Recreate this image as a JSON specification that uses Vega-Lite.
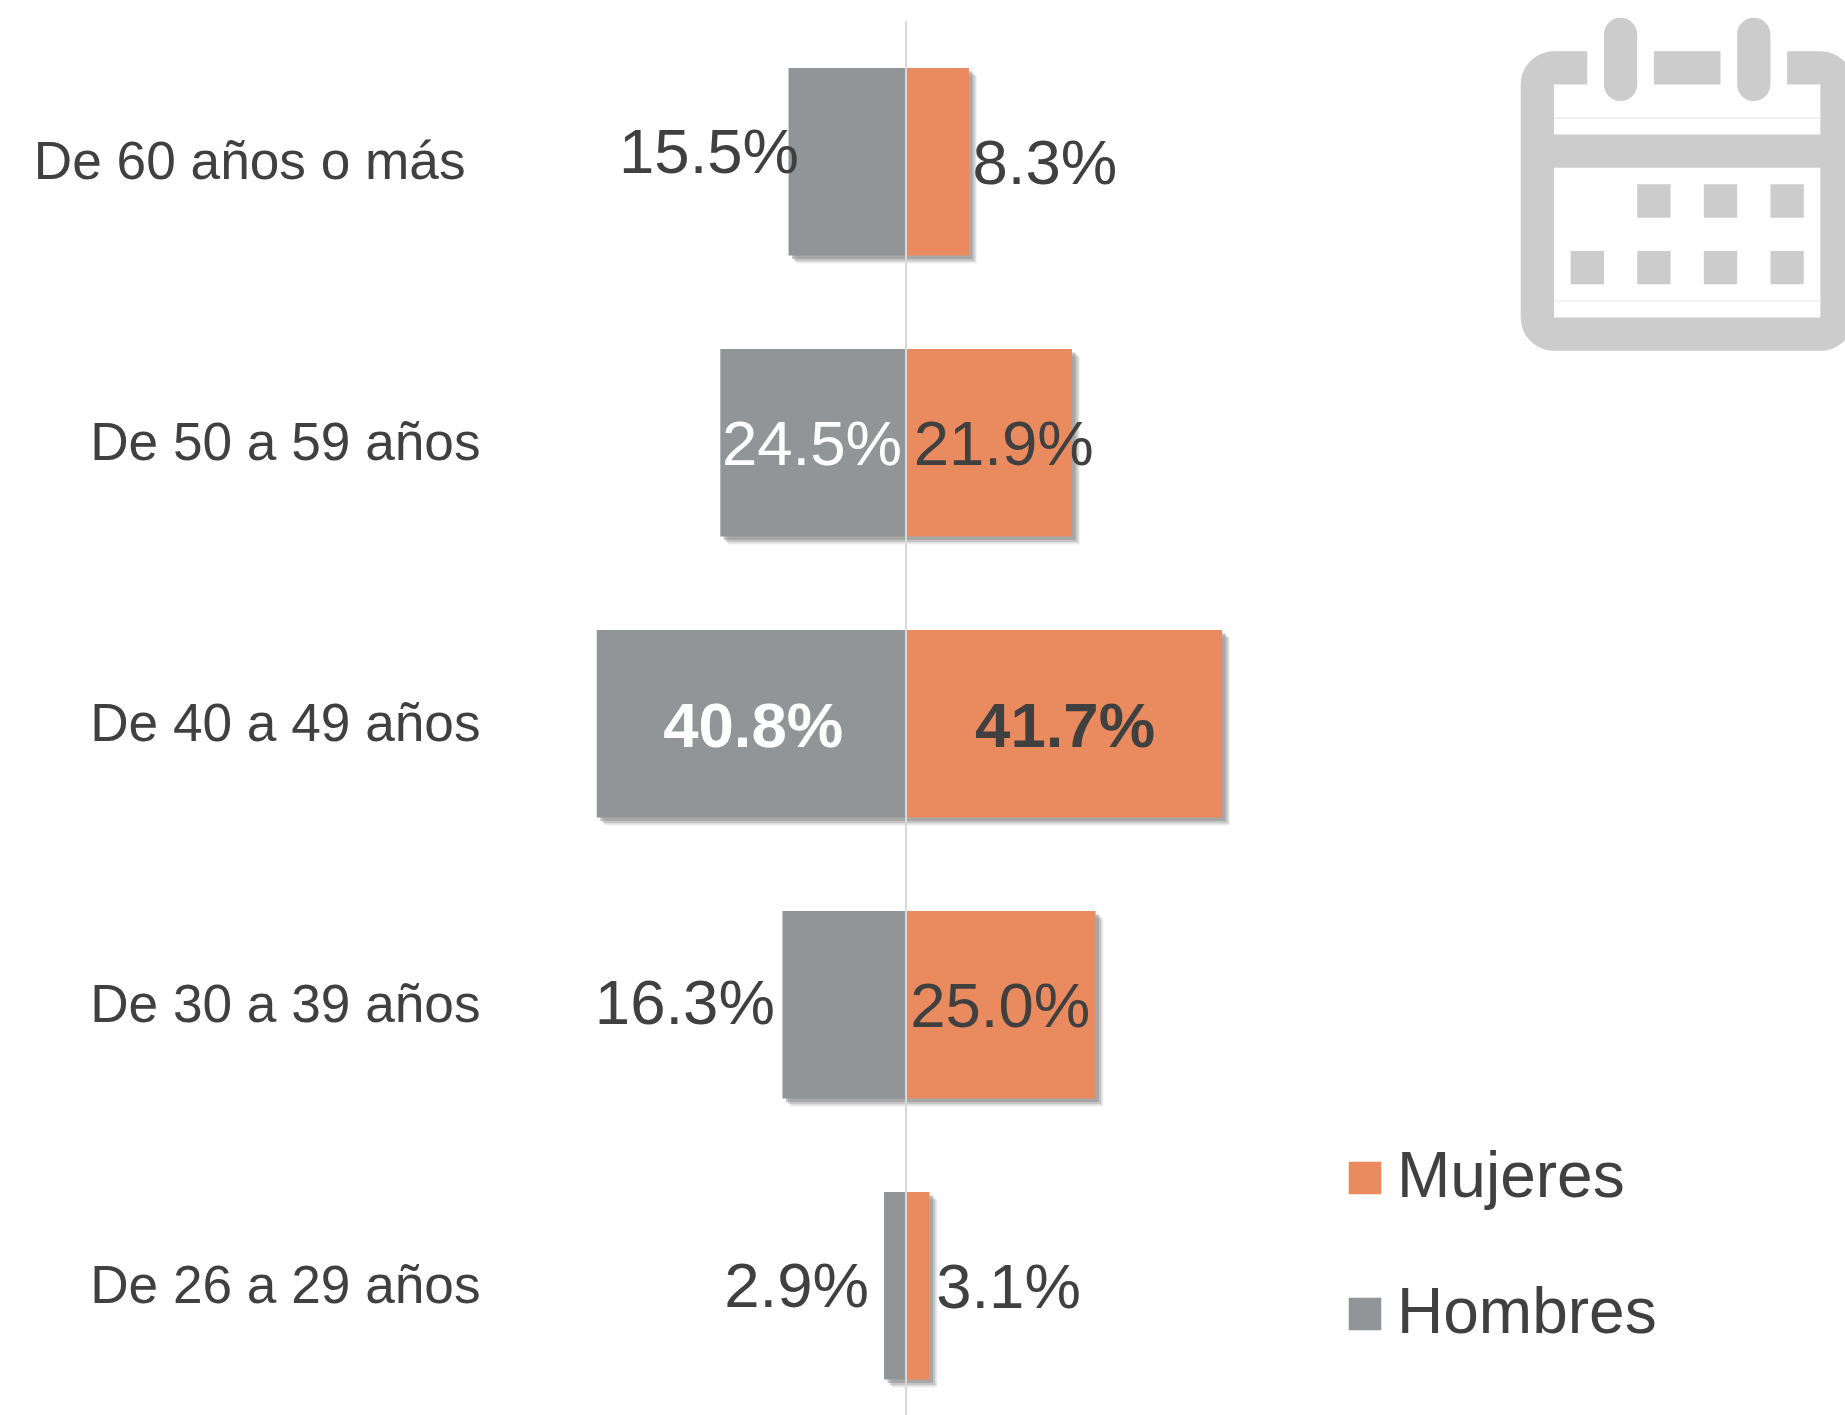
{
"$schema":"https://vega.github.io/schema/vega-lite/v6.json",
"width":1845,"height":1394,
"autosize":{"type":"none"},
"padding":{"left":0,"top":21,"right":0,"bottom":0},
"background":"white",
"config":{"view":{"stroke":null},"font":"Liberation Sans"},
"data":{"values":[
{"grupo":"De 60 años o más","sexo":"Hombres","valor":-15.5,"etiqueta":"15.5%"},
{"grupo":"De 60 años o más","sexo":"Mujeres","valor":8.3,"etiqueta":"8.3%"},
{"grupo":"De 50 a 59 años","sexo":"Hombres","valor":-24.5,"etiqueta":"24.5%"},
{"grupo":"De 50 a 59 años","sexo":"Mujeres","valor":21.9,"etiqueta":"21.9%"},
{"grupo":"De 40 a 49 años","sexo":"Hombres","valor":-40.8,"etiqueta":"40.8%"},
{"grupo":"De 40 a 49 años","sexo":"Mujeres","valor":41.7,"etiqueta":"41.7%"},
{"grupo":"De 30 a 39 años","sexo":"Hombres","valor":-16.3,"etiqueta":"16.3%"},
{"grupo":"De 30 a 39 años","sexo":"Mujeres","valor":25.0,"etiqueta":"25.0%"},
{"grupo":"De 26 a 29 años","sexo":"Hombres","valor":-2.9,"etiqueta":"2.9%"},
{"grupo":"De 26 a 29 años","sexo":"Mujeres","valor":3.1,"etiqueta":"3.1%"}
]},
"encoding":{
"x":{"field":"valor","type":"quantitative","scale":{"domain":[-119.53,123.88],"nice":false,"zero":false},"axis":null},
"y":{"field":"grupo","type":"nominal","title":null,
"scale":{"type":"band","domain":["De 60 años o más","De 50 a 59 años","De 40 a 49 años","De 30 a 39 años","De 26 a 29 años"],"paddingInner":0.3327,"paddingOuter":0.147,"align":0.57},
"axis":{"orient":"left","offset":-480,"domain":false,"ticks":false,"grid":false,"labelFont":"Liberation Sans","labelFontSize":53.2,"labelColor":"#404040","labelLimit":600,"labelAlign":"right","labelOffset":1,"labelPadding":{"condition":{"test":"datum.value=='De 60 años o más'","value":15},"value":0},"labelBaseline":"middle"}}
},
"layer":[
{"mark":{"type":"bar","color":"#8a8a8a","opacity":0.1,"xOffset":8,"x2Offset":8,"yOffset":8,"y2Offset":8}},
{"mark":{"type":"bar","color":"#8a8a8a","opacity":0.2,"xOffset":7,"x2Offset":7,"yOffset":7,"y2Offset":7}},
{"mark":{"type":"bar","color":"#8a8a8a","opacity":0.3,"xOffset":5.5,"x2Offset":5.5,"yOffset":5.5,"y2Offset":5.5}},
{"mark":{"type":"bar","color":"#8a8a8a","opacity":0.5,"xOffset":3.5,"x2Offset":3.5,"yOffset":3.5,"y2Offset":3.5}},
{"mark":{"type":"bar"},
"encoding":{"color":{"field":"sexo","type":"nominal","scale":{"domain":["Mujeres","Hombres"],"range":["#EA8B5F","#919598"]},
"legend":{"title":null,"orient":"none","legendX":1333,"legendY":1125,"labelFont":"Liberation Sans","labelFontSize":64,"labelColor":"#404040","labelLimit":600,"symbolType":"square","symbolSize":1056,"symbolStrokeWidth":0,"labelOffset":0,"rowPadding":72,"columns":1}}}},
{"mark":{"type":"rule","color":"#D9D9D9","strokeWidth":1.5},"encoding":{"x":{"datum":0},"y":null}},
{"mark":{"type":"text","font":"Liberation Sans","fontSize":63.5,"align":"center","baseline":"middle",
"fontWeight":{"expr":"abs(datum.valor)>40?'bold':'normal'"},
"dx":{"expr":"{'15.5%':-79.5,'24.5%':91.6,'40.8%':156.4,'16.3%':-97.6,'2.9%':-87.4,'8.3%':76,'21.9%':-68.3,'41.7%':-157,'25.0%':-95.3,'3.1%':79}[datum.etiqueta]"},
"dy":{"expr":"{'15.5%':-8,'24.5%':3,'40.8%':4,'16.3%':0,'2.9%':2,'8.3%':3,'21.9%':3,'41.7%':4,'25.0%':3,'3.1%':3}[datum.etiqueta]"}},
"encoding":{"text":{"field":"etiqueta","type":"nominal"},
"color":{"condition":{"test":"datum.valor==-24.5||datum.valor==-40.8","value":"#FFFFFF"},"value":"#404040"}}},
{"data":{"values":[{"grupo":"De 60 años o más","valor":103.06}]},
"mark":{"type":"point","filled":true,"fill":"#CCCCCC","opacity":1,"strokeWidth":0,"yOffset":22.5,"size":110889,
"shape":"M-.6 -.8 L-.8 -.8 C-.91 -.8 -1 -.71 -1 -.6 L-1 .8 C-1 .91 -.91 1 -.8 1 L.8 1 C.91 1 1 .91 1 .8 L1 -.6 C1 -.71 .91 -.8 .8 -.8 L.6 -.8 L.6 -.6 L.8 -.6 L.8 -.3 L-.8 -.3 L-.8 -.6 L-.6 -.6 Z M-.8 -.1 L.8 -.1 L.8 .8 L-.8 .8 Z M-.1 .0 L-.3 .0 L-.3 .2 L-.1 .2 Z M.3 .0 L.1 .0 L.1 .2 L.3 .2 Z M.7 .0 L.5 .0 L.5 .2 L.7 .2 Z M-.5 .4 L-.7 .4 L-.7 .6 L-.5 .6 Z M-.1 .4 L-.3 .4 L-.3 .6 L-.1 .6 Z M.3 .4 L.1 .4 L.1 .6 L.3 .6 Z M.7 .4 L.5 .4 L.5 .6 L.7 .6 Z M-.2 -.8 L.2 -.8 L.2 -.6 L-.2 -.6 Z M-.5 -.9 C-.5 -.955 -.455 -1 -.4 -1 C-.345 -1 -.3 -.955 -.3 -.9 L-.3 -.6 C-.3 -.545 -.345 -.5 -.4 -.5 C-.455 -.5 -.5 -.545 -.5 -.6 Z M.3 -.9 C.3 -.955 .345 -1 .4 -1 C.455 -1 .5 -.955 .5 -.9 L.5 -.6 C.5 -.545 .455 -.5 .4 -.5 C.345 -.5 .3 -.545 .3 -.6 Z"}},
{"data":{"values":[{"grupo":"De 60 años o más","valor":103.06}]},
"mark":{"type":"point","filled":true,"fill":"#E4E4E4","opacity":1,"strokeWidth":0,"yOffset":22.5,"size":110889,
"shape":"M-.8 -.402 L.8 -.402 L.8 -.396 L-.8 -.396 Z M-.8 .698 L.8 .698 L.8 .704 L-.8 .704 Z"}}
]
}
